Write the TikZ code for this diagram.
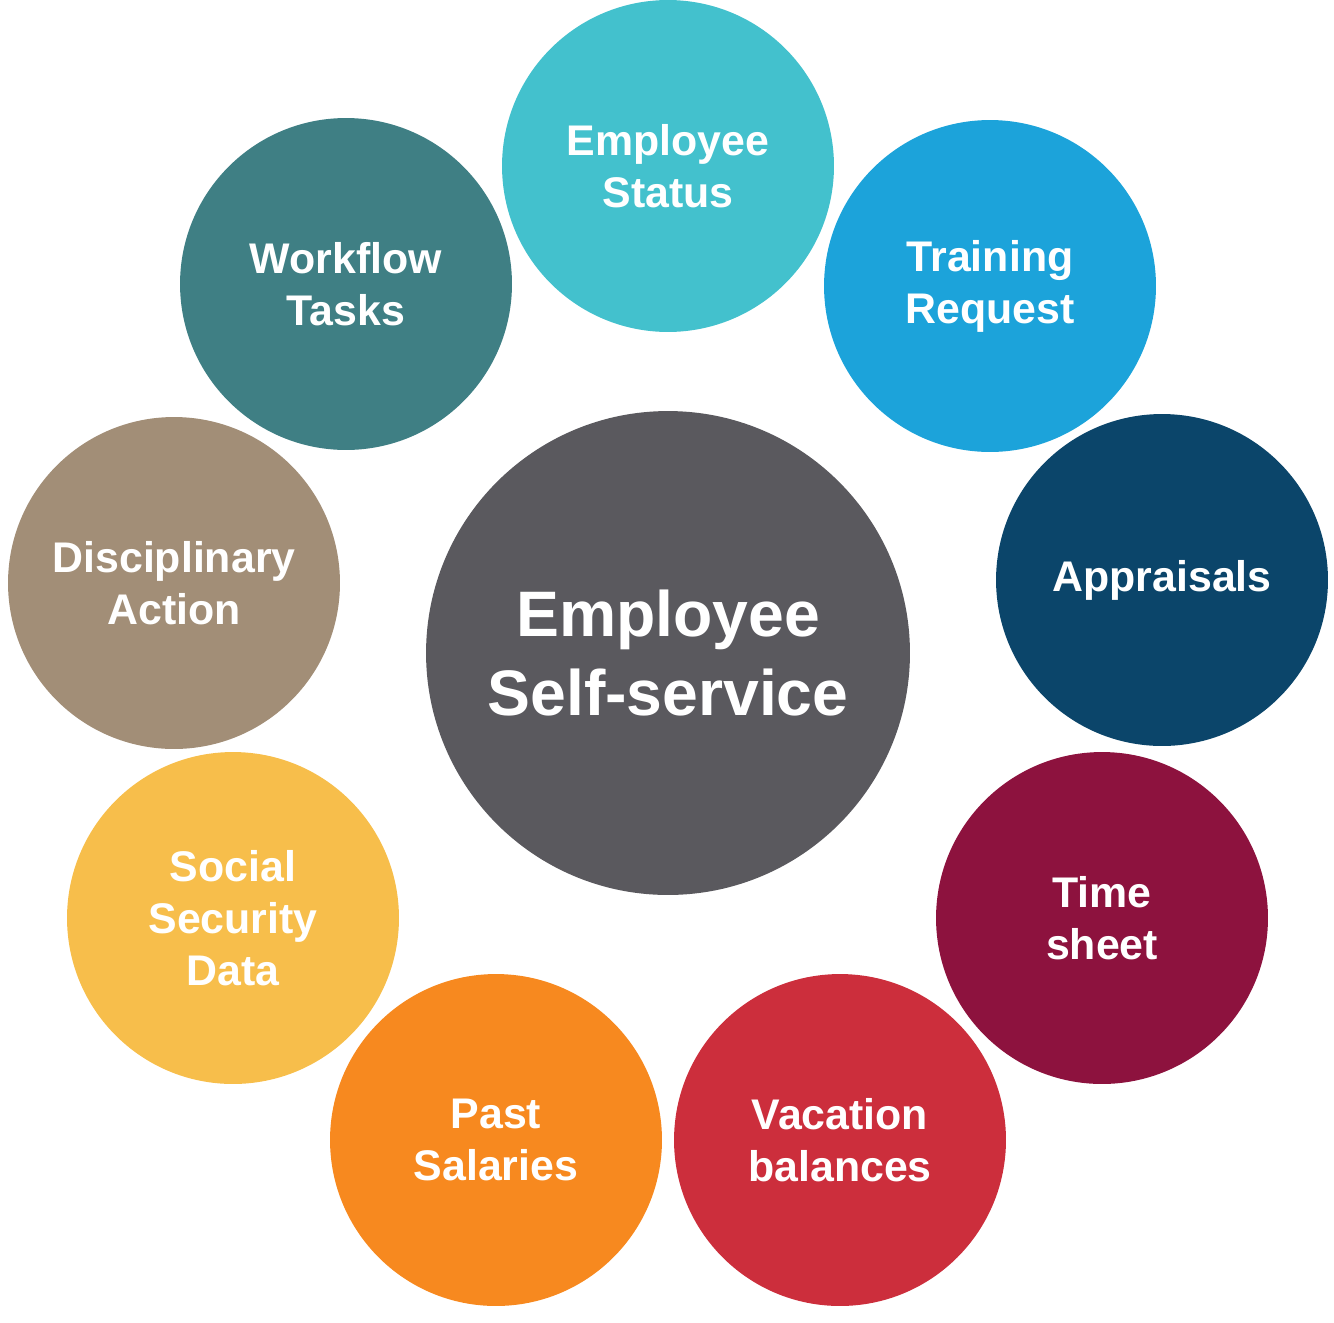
\documentclass[tikz,border=0pt]{standalone}
\usepackage{fontspec}
\setmainfont{Liberation Sans}
\definecolor{esscore}{HTML}{5A595E}
\definecolor{essstatus}{HTML}{43C1CD}
\definecolor{esstraining}{HTML}{1CA3DA}
\definecolor{essappraisal}{HTML}{0B456A}
\definecolor{esstime}{HTML}{8D123E}
\definecolor{essvacation}{HTML}{CC2E3C}
\definecolor{esssalary}{HTML}{F7891F}
\definecolor{esssocial}{HTML}{F7BE4B}
\definecolor{essdiscipline}{HTML}{A28E77}
\definecolor{essworkflow}{HTML}{3F7F84}
\begin{document}
\begin{tikzpicture}[x=0.02cm, y=-0.02cm,
    bubble/.style={circle, minimum size=6.64cm, inner sep=0pt, align=center, text=white,
      font=\bfseries\fontsize{24.4}{29.5}\selectfont},
    core/.style={bubble, minimum size=9.68cm, font=\bfseries\fontsize{36.6}{45}\selectfont}]
  \useasboundingbox (0,0) rectangle (1334,1322);

  \node [core, fill=esscore] (core) at (668,653) {Employee\\Self-service};

  \node [bubble, fill=essstatus] (status) at (668,166) {Employee\\Status};
  \node [bubble, fill=esstraining] (training) at (990,286) {Training\\Request};
  \node [bubble, fill=essappraisal] (appraisal) at (1162,580) {Appraisals};
  \node [bubble, fill=esstime] (time) at (1102,918) {Time\\sheet};
  \node [bubble, fill=essvacation] (vacation) at (840,1140) {Vacation\\balances};
  \node [bubble, fill=esssalary] (salary) at (496,1140) {Past\\Salaries};
  \node [bubble, fill=esssocial] (social) at (233,918) {Social\\Security\\Data};
  \node [bubble, fill=essdiscipline] (discipline) at (174,583) {Disciplinary\\Action};
  \node [bubble, fill=essworkflow] (workflow) at (346,284) {Workflow\\Tasks};
\end{tikzpicture}
\end{document}
